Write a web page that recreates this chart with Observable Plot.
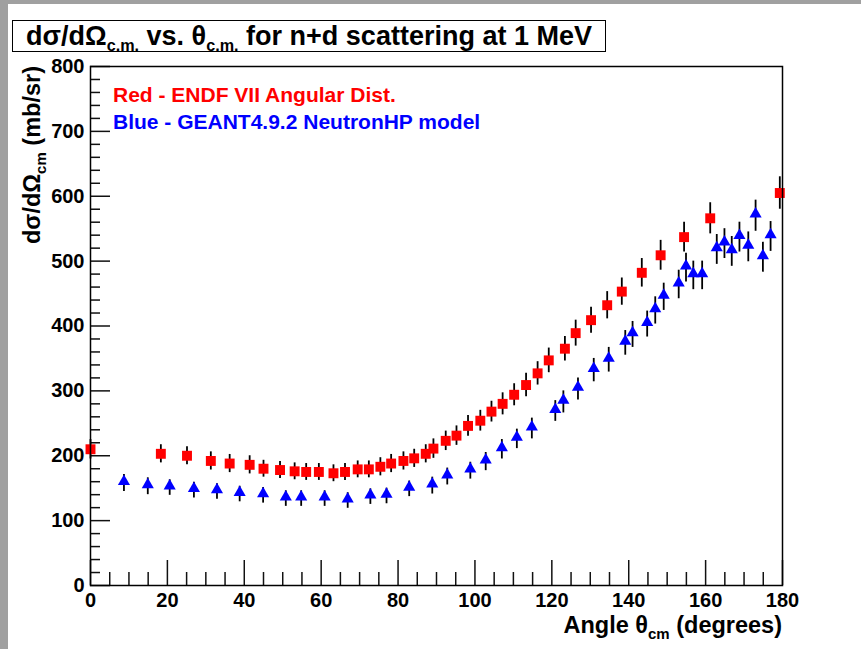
<!DOCTYPE html>
<html><head><meta charset="utf-8">
<script src="https://cdn.jsdelivr.net/npm/d3@7"></script>
<script src="https://cdn.jsdelivr.net/npm/@observablehq/plot@0.6"></script>
<style>
body{margin:0;background:#fff;}
#wrap{position:relative;width:861px;height:649px;overflow:hidden;background:#fff;}
.grey{position:absolute;background:#a0a0a0;}
#title{position:absolute;left:12px;top:20px;width:592px;height:30px;border:1.5px solid #000;background:#fff;font:bold 27px "Liberation Sans",Arial,sans-serif;text-align:center;line-height:30px;white-space:nowrap;color:#000}
#title sub{font-size:0.6em;vertical-align:-0.35em;line-height:0}
</style></head>
<body><div id="wrap"></div>
<script>
// ENDF VII (red squares)
const redAngle = [0, 18.3, 25.1, 31.3, 36.2, 41.4, 45.0, 49.3, 53.1, 56.1, 59.4, 63.2, 66.2, 69.5, 72.4, 75.4, 78.2, 81.4, 84.2, 87.2, 89.2, 92.4, 95.2, 98.2, 101.4, 104.3, 107.2, 110.2, 113.3, 116.3, 119.2, 123.4, 126.2, 130.2, 134.4, 138.2, 143.4, 148.3, 154.4, 161.2, 179.3];
const redValue = [210, 203, 200, 192, 188, 186, 180, 178, 176, 175, 175, 173, 175, 179, 179, 183, 188, 192, 196, 203, 211, 223, 231, 246, 254, 268, 280, 294, 309, 327, 347, 365, 389, 409, 432, 453, 482, 509, 537, 566, 605];
const redError = [15, 14, 14, 14, 14, 14, 13, 13, 13, 13, 13, 13, 13, 13, 13, 14, 14, 14, 14, 14, 15, 15, 15, 16, 16, 16, 17, 17, 18, 18, 19, 19, 20, 20, 21, 21, 22, 23, 23, 24, 25];
// GEANT4.9.2 NeutronHP (blue triangles)
const blueAngle = [8.7, 14.9, 20.6, 26.9, 32.9, 38.8, 44.9, 50.8, 54.8, 60.9, 66.9, 72.8, 77.0, 82.9, 88.9, 92.8, 98.8, 102.8, 107.0, 110.9, 114.8, 120.9, 123.0, 126.8, 130.9, 134.8, 139.1, 141.0, 144.8, 146.9, 149.1, 153.0, 154.9, 156.8, 159.1, 162.9, 164.9, 166.8, 168.8, 171.1, 173.0, 174.9, 176.9];
const blueValue = [158, 153, 151, 147, 145, 141, 139, 134, 134, 134, 131, 137, 138, 149, 154, 168, 177, 191, 210, 226, 242, 269, 283, 303, 332, 348, 374, 387, 403, 424, 445, 464, 490, 478, 478, 518, 527, 515, 537, 522, 570, 506, 538];
const blueError = [13, 13, 12, 12, 12, 12, 12, 12, 12, 12, 12, 12, 12, 12, 13, 13, 13, 14, 15, 15, 16, 16, 17, 17, 18, 19, 19, 20, 20, 21, 21, 22, 22, 22, 22, 23, 23, 23, 23, 23, 24, 23, 23];

const xTickLabels = [0, 20, 40, 60, 80, 100, 120, 140, 160, 180];
const yTickLabels = [0, 100, 200, 300, 400, 500, 600, 700, 800];
const legendLines = ["Red - ENDF VII Angular Dist.", "Blue - GEANT4.9.2 NeutronHP model"];

const red = redAngle.map((a, i) => ({a, v: redValue[i], e: redError[i]}));
const blue = blueAngle.map((a, i) => ({a, v: blueValue[i], e: blueError[i]}));
const xMinor = d3.range(0, 181, 5).filter(d => d % 20 !== 0);
const yMinor = d3.range(0, 801, 20).filter(d => d % 100 !== 0);

const W = 861, H = 649, mL = 90, mR = 79, mT = 66, mB = 64;
const pw = W - mL - mR, ph = H - mT - mB;
const FONT = '"Liberation Sans", Arial, Helvetica, sans-serif';

const svg = Plot.plot({
  width: W, height: H,
  marginLeft: mL, marginRight: mR, marginTop: mT, marginBottom: mB,
  style: {fontFamily: FONT, fontSize: "20px", fontWeight: "bold", background: "white", color: "black"},
  x: {domain: [0, 180]},
  y: {domain: [0, 800]},
  marks: [
    Plot.tickX(xTickLabels, {x: d => d, stroke: "#111", strokeWidth: 1.5, insetTop: ph - 25}),
    Plot.tickX(xMinor, {x: d => d, stroke: "#111", strokeWidth: 1.5, insetTop: ph - 13}),
    Plot.tickY(yTickLabels, {y: d => d, stroke: "#111", strokeWidth: 1.5, insetRight: pw - 20}),
    Plot.tickY(yMinor, {y: d => d, stroke: "#111", strokeWidth: 1.5, insetRight: pw - 10}),
    Plot.axisX({ticks: xTickLabels, tickSize: 0, tickPadding: 7, label: null, fontSize: 20, fontWeight: "bold"}),
    Plot.axisY({ticks: yTickLabels, tickSize: 0, tickPadding: 6, label: null, fontSize: 20, fontWeight: "bold"}),
    Plot.ruleX(red, {x: "a", y1: d => d.v - d.e, y2: d => d.v + d.e, stroke: "#000", strokeWidth: 1.8}),
    Plot.ruleX(blue, {x: "a", y1: d => d.v - d.e, y2: d => d.v + d.e, stroke: "#000", strokeWidth: 1.8}),
    Plot.dot(red, {x: "a", y: "v", symbol: "square", r: 5.6, fill: "#ff0000", stroke: null}),
    Plot.dot(blue, {x: "a", y: "v", symbol: "triangle", r: 4.5, fill: "#0000ff", stroke: null, dy: -1.6}),
    Plot.frame({stroke: "#000", strokeWidth: 1.5})
  ]
});

const s = d3.select(svg);
// legend text
s.append("text").attr("x", 113).attr("y", 102).attr("fill", "#ff0000").attr("text-anchor", "start")
  .style("font", `bold 21px ${FONT}`).text(legendLines[0]);
s.append("text").attr("x", 113).attr("y", 129).attr("fill", "#0000ff").attr("text-anchor", "start")
  .style("font", `bold 21px ${FONT}`).text(legendLines[1]);

// x-axis title
const xt = s.append("text").attr("x", W - mR).attr("y", 633).attr("text-anchor", "end")
  .style("font", `bold 23.5px ${FONT}`).attr("fill", "#000");
xt.append("tspan").text("Angle θ");
xt.append("tspan").attr("dy", 6).style("font-size", "15px").text("cm");
xt.append("tspan").attr("dy", -6).text(" (degrees)");

// y-axis title
const yt = s.append("text").attr("transform", `translate(40,${mT}) rotate(-90)`).attr("text-anchor", "end")
  .style("font", `bold 23.5px ${FONT}`).attr("fill", "#000");
yt.append("tspan").text("dσ/dΩ");
yt.append("tspan").attr("dy", 6).style("font-size", "15px").text("cm");
yt.append("tspan").attr("dy", -6).text(" (mb/sr)");

const wrap = document.getElementById("wrap");
wrap.appendChild(svg);
svg.style.position = "absolute"; svg.style.left = "0"; svg.style.top = "0";

const g1 = document.createElement("div"); g1.className = "grey";
Object.assign(g1.style, {left: "0", top: "0", width: W + "px", height: "4px"}); wrap.appendChild(g1);
const g2 = document.createElement("div"); g2.className = "grey";
Object.assign(g2.style, {left: "0", top: "0", width: "8px", height: H + "px"}); wrap.appendChild(g2);

const title = document.createElement("div"); title.id = "title";
title.innerHTML = 'dσ/dΩ<sub>c.m.</sub> vs. θ<sub>c.m.</sub> for n+d scattering at 1 MeV';
wrap.appendChild(title);
</script>
</body></html>
